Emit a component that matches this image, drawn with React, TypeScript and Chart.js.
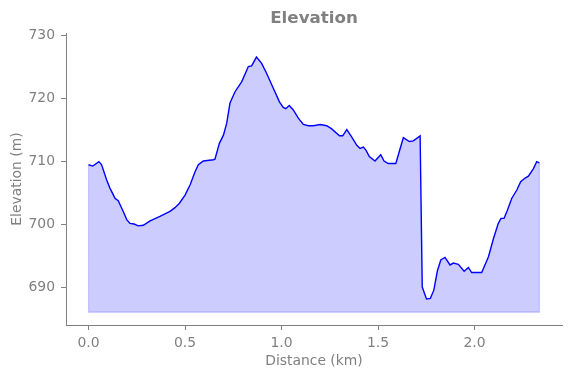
import React, { useEffect, useRef } from "react";
import { Chart, registerables } from "chart.js";

Chart.register(...registerables);

const distanceKm = [
  0.0, 0.022, 0.054, 0.068, 0.094, 0.111, 0.137, 0.154, 0.18, 0.198, 0.215, 0.236, 0.258, 0.284,
  0.319, 0.37, 0.422, 0.448, 0.471, 0.5, 0.526, 0.552, 0.569, 0.595, 0.647, 0.655, 0.678, 0.699,
  0.716, 0.733, 0.759, 0.794, 0.828, 0.845, 0.87, 0.897, 0.923, 0.958, 0.989, 1.009, 1.022, 1.04,
  1.061, 1.087, 1.113, 1.139, 1.165, 1.2, 1.234, 1.26, 1.3, 1.317, 1.338, 1.364, 1.39, 1.407,
  1.424, 1.438, 1.455, 1.484, 1.514, 1.531, 1.553, 1.592, 1.631, 1.662, 1.683, 1.718, 1.729,
  1.751, 1.771, 1.789, 1.807, 1.825, 1.847, 1.873, 1.89, 1.916, 1.946, 1.968, 1.985, 2.037,
  2.072, 2.098, 2.123, 2.137, 2.153, 2.17, 2.193, 2.219, 2.239, 2.262, 2.279, 2.305, 2.322, 2.336,
];

const elevationM = [
  709.4, 709.2, 709.9, 709.4, 707.0, 705.7, 704.1, 703.7, 702.0, 700.7, 700.1, 700.0, 699.7, 699.8,
  700.5, 701.2, 702.0, 702.6, 703.3, 704.6, 706.2, 708.3, 709.4, 710.0, 710.2, 710.3, 712.8, 714.1,
  716.0, 719.2, 721.0, 722.6, 725.0, 725.1, 726.5, 725.5, 723.9, 721.5, 719.4, 718.5, 718.3, 718.8,
  718.1, 716.8, 715.8, 715.6, 715.6, 715.8, 715.6, 715.1, 714.0, 714.0, 715.0, 713.8, 712.5, 712.0,
  712.2, 711.7, 710.7, 710.0, 711.0, 710.0, 709.6, 709.6, 713.7, 713.1, 713.2, 714.0, 690.0,
  688.1, 688.2, 689.5, 692.5, 694.3, 694.7, 693.5, 693.8, 693.6, 692.5, 693.1, 692.3, 692.3,
  694.8, 697.7, 700.1, 700.9, 700.9, 702.2, 704.1, 705.4, 706.7, 707.3, 707.6, 708.8, 709.9, 709.7,
];

const fillBase = 686;
const xTicks = [0, 0.5, 1.0, 1.5, 2.0];
const yTicks = [690, 700, 710, 720, 730];
const chartTitle = "Elevation";

const GRAY = "#808080";
const FONT = "DejaVu Sans";

const axesTitlePlugin = {
  id: "axesTitle",
  afterDraw(chart: any) {
    const { ctx, chartArea } = chart;
    ctx.save();
    ctx.fillStyle = GRAY;
    ctx.font = `bold 16.7px "${FONT}"`;
    ctx.textAlign = "center";
    ctx.textBaseline = "middle";
    ctx.fillText(chartTitle, (chartArea.left + chartArea.right) / 2, 18.5);
    ctx.restore();
  },
};

export default function App() {
  const ref = useRef<HTMLCanvasElement | null>(null);

  useEffect(() => {
    if (!ref.current) return;
    const points = distanceKm.map((d, i) => ({ x: d, y: elevationM[i] }));
    const last = distanceKm.length - 1;
    const outline = [
      { x: distanceKm[0], y: elevationM[0] },
      { x: distanceKm[0], y: fillBase },
      { x: distanceKm[last], y: fillBase },
      { x: distanceKm[last], y: elevationM[last] },
    ];
    const chart = new Chart(ref.current, {
      type: "line",
      data: {
        datasets: [
          {
            data: points,
            borderColor: "#0000ff",
            borderWidth: 1.4,
            backgroundColor: "#ccccff",
            fill: { value: fillBase },
            pointRadius: 0,
            tension: 0,
            order: 0,
          },
          {
            data: outline,
            borderColor: "rgba(0,0,255,0.2)",
            borderWidth: 1.2,
            fill: false,
            pointRadius: 0,
            tension: 0,
            order: -1,
          },
        ],
      },
      plugins: [axesTitlePlugin],
      options: {
        animation: false,
        responsive: false,
        devicePixelRatio: 1,
        layout: { padding: { left: 0, right: 9, top: 33, bottom: 0 } },
        plugins: {
          legend: { display: false },
          tooltip: { enabled: false },
          title: { display: false },
        },
        scales: {
          x: {
            type: "linear",
            min: -0.1166,
            max: 2.453,
            afterFit: (s: any) => {
              s.height = 53;
            },
            afterBuildTicks: (s: any) => {
              s.ticks = xTicks.map((v) => ({ value: v }));
            },
            ticks: {
              color: GRAY,
              font: { family: FONT, size: 13.9 },
              padding: 5,
              maxRotation: 0,
              autoSkip: false,
              callback: (v: any) => Number(v).toFixed(1),
            },
            grid: {
              drawOnChartArea: false,
              drawTicks: true,
              tickLength: 5,
              tickColor: GRAY,
            },
            border: { display: true, color: GRAY, width: 1 },
            title: {
              display: true,
              text: "Distance (km)",
              color: GRAY,
              font: { family: FONT, size: 13.9 },
              padding: { top: 0, bottom: 8 },
            },
          },
          y: {
            type: "linear",
            min: 683.97,
            max: 730.32,
            afterFit: (s: any) => {
              s.width = 66;
            },
            afterBuildTicks: (s: any) => {
              s.ticks = yTicks.map((v) => ({ value: v }));
            },
            ticks: {
              color: GRAY,
              font: { family: FONT, size: 13.9 },
              padding: 6,
              autoSkip: false,
              callback: (v: any) => String(v),
            },
            grid: {
              drawOnChartArea: false,
              drawTicks: true,
              tickLength: 5,
              tickColor: GRAY,
            },
            border: { display: true, color: GRAY, width: 1 },
            title: {
              display: true,
              text: "Elevation (m)",
              color: GRAY,
              font: { family: FONT, size: 13.9 },
              padding: { top: 9, bottom: 0 },
            },
          },
        },
      },
    });
    return () => chart.destroy();
  }, []);

  return (
    <div style={{ position: "fixed", left: 0, top: 0, width: 571, height: 378, background: "#fff" }}>
      <canvas ref={ref} width={571} height={378} style={{ display: "block" }} />
    </div>
  );
}
